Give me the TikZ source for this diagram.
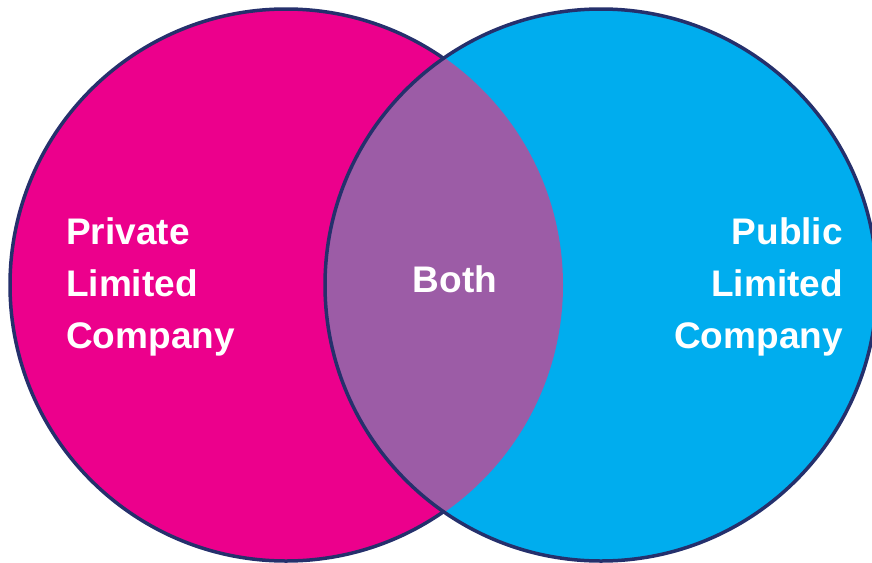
\documentclass[tikz,border=0pt]{standalone}
\usepackage{fontspec}
\setmainfont{Liberation Sans}
\usetikzlibrary{positioning}
\definecolor{privpink}{HTML}{EC008C}
\definecolor{publblue}{HTML}{00ADEE}
\definecolor{bothpurple}{HTML}{9C5CA6}
\definecolor{rimnavy}{HTML}{25306C}

\begin{document}
\begin{tikzpicture}[x=1pt, y=-1pt,
    rim/.style={draw=rimnavy, line width=3.5pt},
    label/.style={text=white, font=\bfseries\fontsize{37}{52}\selectfont, inner sep=0pt}]
    \useasboundingbox (0, 0) rectangle (872, 562);
    % Circles
    \coordinate (privc) at (286, 285);
    \coordinate (publc) at (601, 285);
    \fill [privpink, rim] (privc) circle (276);
    \fill [publblue] (publc) circle (276);
    % Overlap
    \begin{scope}
        \clip (privc) circle (277);
        \fill [bothpurple] (publc) circle (276);
    \end{scope}
    % Outline of the right circle
    \draw [rim] (publc) circle (276);
    % Labels
    \node [label, align=left, anchor=north west] (priv) at (66, 217) {Private\\Limited\\Company};
    \node [label, align=right, anchor=north east] (publ) at (843, 217) {Public\\Limited\\Company};
    \node [label, anchor=base] (both) at (455, 292) {Both};
\end{tikzpicture}
\end{document}
